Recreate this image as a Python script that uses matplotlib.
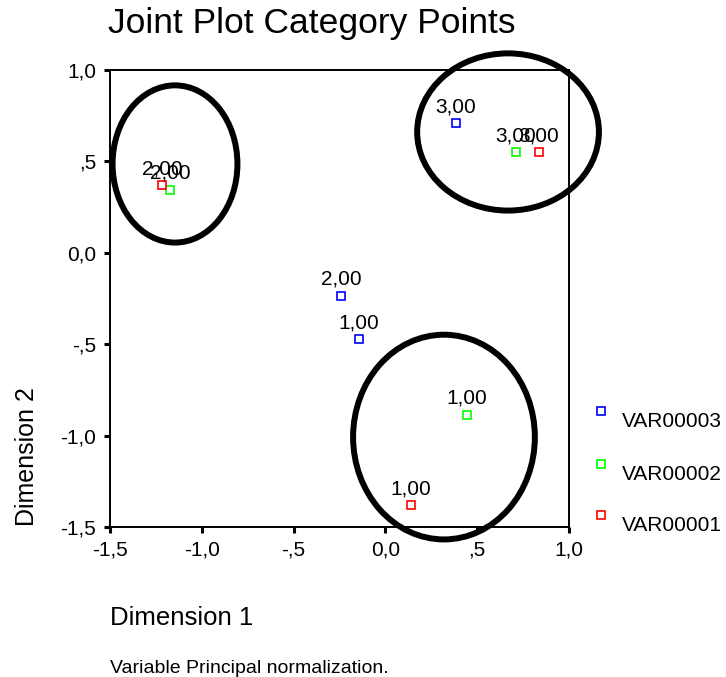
import matplotlib
matplotlib.use('Agg')
import matplotlib.pyplot as plt
from matplotlib.patches import Ellipse
from matplotlib.lines import Line2D

plt.rcParams['font.family'] = ['Liberation Sans', 'DejaVu Sans']

# category labels shared by all three variables
categories = ['1,00', '2,00', '3,00']

# object scores (Dimension 1, Dimension 2)
var3_x = [-0.144, -0.242, 0.385]
var3_y = [-0.472, -0.236, 0.710]
var2_x = [0.444, -1.173, 0.711]
var2_y = [-0.887, 0.344, 0.551]
var1_x = [0.139, -1.217, 0.837]
var1_y = [-1.380, 0.371, 0.551]

series_names = ['VAR00003', 'VAR00002', 'VAR00001']
series_colors = ['#0000ff', '#00ff00', '#ff0000']

xticks = [-1.5, -1.0, -0.5, 0.0, 0.5, 1.0]
xtick_labels = ['-1,5', '-1,0', '-,5', '0,0', ',5', '1,0']
yticks = [-1.5, -1.0, -0.5, 0.0, 0.5, 1.0]
ytick_labels = ['-1,5', '-1,0', '-,5', '0,0', ',5', '1,0']

# hand-drawn circles around the groups: (centre x, centre y, width, height)
circles = [(-1.146, 0.486, 0.68, 0.86),
           (0.668, 0.661, 0.99, 0.86),
           (0.319, -1.008, 0.99, 1.12)]

W, H = 726, 677
fig = plt.figure(figsize=(W / 100, H / 100), dpi=100)
ax = fig.add_axes([110 / W, 1 - 527 / H, (569 - 110) / W, (527 - 70) / H])

xs = [var3_x, var2_x, var1_x]
ys = [var3_y, var2_y, var1_y]
for sx, sy, col in zip(xs, ys, series_colors):
    ax.plot(sx, sy, 's', ms=5.8, mfc='white', mec=col, mew=1.2, zorder=3)
    for cx, cy, lab in zip(sx, sy, categories):
        ax.annotate(lab, (cx, cy), xytext=(0, 5), textcoords='offset points',
                    ha='center', va='bottom', fontsize=15, zorder=4)

for cx, cy, w, h in circles:
    ax.add_patch(Ellipse((cx, cy), w, h, fill=False, ec='black', lw=4.3,
                         clip_on=False, zorder=5))

ax.set_xlim(-1.5, 1.0)
ax.set_ylim(-1.5, 1.0)
ax.set_xticks(xticks)
ax.set_xticklabels(xtick_labels)
ax.set_yticks(yticks)
ax.set_yticklabels(ytick_labels)
ax.tick_params(direction='out', length=4, width=2.2, labelsize=15, pad=6)
for sp in ax.spines.values():
    sp.set_linewidth(1.4)

# legend drawn at the right of the plot
leg_y = [411, 464, 515]
for name, col, py in zip(series_names, series_colors, leg_y):
    fig.add_artist(Line2D([601 / W], [1 - py / H], marker='s', ms=5.8, mfc='white',
                          mec=col, mew=1.2, transform=fig.transFigure))
    fig.text(622 / W, 1 - (py + 16) / H, name, fontsize=15, va='baseline')

fig.text(108 / W, 1 - 33 / H, 'Joint Plot Category Points', fontsize=25.5, va='baseline')
fig.text(110 / W, 1 - 625 / H, 'Dimension 1', fontsize=18.5, va='baseline')
fig.text(27 / W, 1 - 457 / H, 'Dimension 2', fontsize=18, rotation=90,
         ha='center', va='center')
fig.text(110 / W, 1 - 673 / H, 'Variable Principal normalization.', fontsize=14,
         va='baseline')

fig.savefig('out.png', dpi=100)
